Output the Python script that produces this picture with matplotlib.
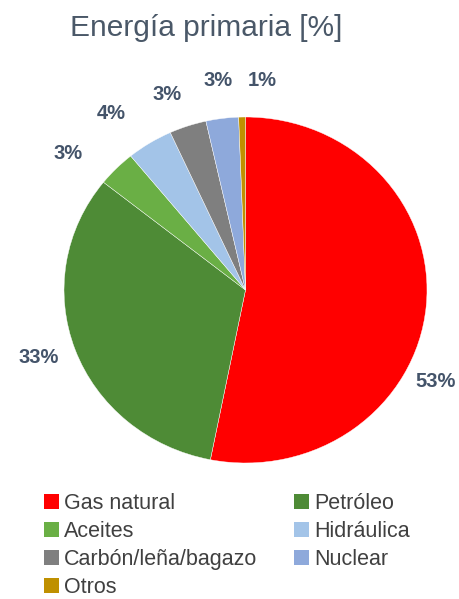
import matplotlib
matplotlib.use("Agg")
import matplotlib.pyplot as plt

plt.rcParams["font.family"] = ["Liberation Sans", "DejaVu Sans"]

# data (clockwise from 12 o'clock)
categories = ["Gas natural", "Petróleo", "Aceites", "Hidráulica",
              "Carbón/leña/bagazo", "Nuclear", "Otros"]
shares = [53.1, 32.6, 3.4, 4.1, 3.3, 2.9, 0.6]
colors = ["#FF0000", "#4E8B36", "#6AAF45", "#A3C4E8",
          "#7F7F7F", "#8EA9DB", "#BF9000"]

# label positions in pie units (Excel-style placement)
label_pos = [(1.05, -0.53), (-1.14, -0.39), (-0.98, 0.79), (-0.74, 1.02),
             (-0.43, 1.13), (-0.15, 1.21), (0.09, 1.21)]

W, H = 459, 599
fig = plt.figure(figsize=(W / 100, H / 100), dpi=100)

# pie area: x 64..427 px, y 117..463 px (slightly wider than tall)
ax = fig.add_axes([64 / W, 1 - 463 / H, 363 / W, 346 / H])
wedges, texts, autotexts = ax.pie(
    shares, colors=colors, startangle=90, counterclock=False,
    autopct="%.0f%%", pctdistance=1.2,
    wedgeprops=dict(edgecolor="white", linewidth=0.3),
    textprops=dict(fontsize=14.5, fontweight="bold", color="#44546A"),
)
ax.set_aspect("auto")
ax.set_xlim(-1, 1)
ax.set_ylim(-1, 1)
ax.axis("off")

for t, (x, y) in zip(autotexts, label_pos):
    t.set_position((x, y))
    t.set_ha("center")
    t.set_va("center")
    t.set_clip_on(False)

fig.text(206 / W, 1 - 28 / H, "Energía primaria [%]", ha="center", va="center",
         fontsize=21.5, color="#4A5868")

# legend, filled row by row
order = [0, 2, 4, 6, 1, 3, 5]
leg = fig.legend([wedges[i] for i in order], [categories[i] for i in order],
                 ncol=2, loc="upper left", bbox_to_anchor=(44 / W, 1 - 493 / H),
                 frameon=False, fontsize=15.5, handlelength=0.68,
                 handleheight=0.68, handletextpad=0.25, columnspacing=1.7,
                 labelspacing=0.33, borderpad=0, borderaxespad=0)
for t in leg.get_texts():
    t.set_color("#404040")
for h in leg.legend_handles:
    h.set_edgecolor("none")

fig.savefig("out.png", dpi=100)
